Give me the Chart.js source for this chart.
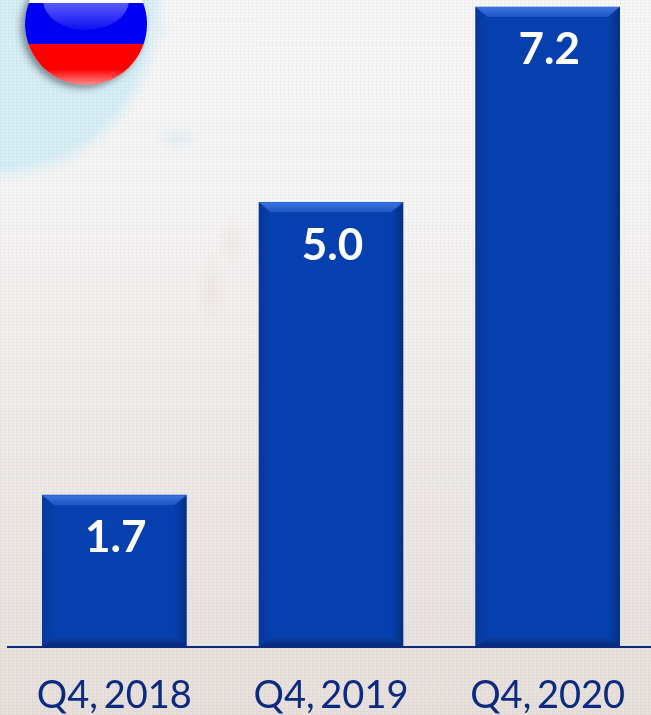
<!DOCTYPE html>
<html>
<head>
<meta charset="utf-8">
<script src="https://cdn.jsdelivr.net/npm/chart.js@4"></script>
<style>
  html, body { margin: 0; padding: 0; width: 651px; height: 715px; overflow: hidden; }
  body {
    position: relative;
    background-color: #f1eded;
    background-image:
      repeating-linear-gradient(0deg, rgba(110,95,90,.04) 0 1px, transparent 1px 3px),
      repeating-linear-gradient(90deg, rgba(110,95,90,.035) 0 1px, transparent 1px 4px),
      radial-gradient(ellipse 26px 12px at 150px 30px, rgba(226,241,247,.9), rgba(226,241,247,0)),
      radial-gradient(ellipse 168px 184px at 0 0, #d6eef6 0 90%, rgba(224,241,247,.6) 95%, rgba(224,241,247,0) 100%),
      radial-gradient(ellipse 24px 14px at 178px 138px, rgba(214,236,245,.6), rgba(214,236,245,0)),
      radial-gradient(ellipse 16px 40px at 212px 290px, rgba(225,200,195,.22), rgba(225,200,195,0)),
      radial-gradient(ellipse 16px 26px at 232px 240px, rgba(225,200,195,.2), rgba(225,200,195,0)),
      linear-gradient(180deg, #f7f7f8 0, #f6f5f5 200px, #f0ecea 400px, #e7e0dd 100%);
  }
  #flag {
    position: absolute; left: 25px; top: -37px; width: 122px; height: 122px; border-radius: 50%;
    background: linear-gradient(180deg, #fff 0 40px, #0000f2 40px 81px, #ff0000 81px 100%);
    box-shadow: -4px 3px 7px rgba(50,60,70,.55);
    overflow: hidden;
  }
  #flag::before {
    content: ""; position: absolute; left: 18px; top: 7px; width: 86px; height: 60px; border-radius: 50%;
    background: linear-gradient(180deg, rgba(100,100,255,.9) 55%, rgba(40,40,245,.35) 100%);
    clip-path: inset(33px 0 0 0);
  }
  #flag::after {
    content: ""; position: absolute; left: 0; bottom: 0; width: 122px; height: 16px;
    background: linear-gradient(180deg, rgba(255,255,255,0), rgba(255,255,255,.55));
  }
  canvas { position: absolute; left: 0; top: 0; }
</style>
</head>
<body>
<div id="flag"></div>
<canvas id="chart" width="660" height="715"></canvas>
<script>
const categories = ["Q4, 2018", "Q4, 2019", "Q4, 2020"];
const values = [1.7, 5.0, 7.2];
const valueLabels = ["1.7", "5.0", "7.2"];
const axisTop = 7.28;

const navy = "#0b2a80";
const barFill = "#0640ae";
const sideBevel = 12;
const topBevel = 10;
const bottomBevel = 8;

function facet(ctx, pts, fill) {
  ctx.beginPath();
  pts.forEach((p, i) => (i ? ctx.lineTo(p[0], p[1]) : ctx.moveTo(p[0], p[1])));
  ctx.closePath();
  ctx.fillStyle = fill;
  ctx.fill();
}

function ramp(ctx, x0, y0, x1, y1, from, to) {
  const g = ctx.createLinearGradient(x0, y0, x1, y1);
  g.addColorStop(0, from);
  g.addColorStop(1, to);
  return g;
}

// Chiselled edges on every bar, the value in white near the top, and the baseline rule.
const bevelledBars = {
  id: "bevelledBars",
  beforeDraw(chart) {
    chart.ctx.wordSpacing = "-4px";
  },
  afterDatasetsDraw(chart) {
    const ctx = chart.ctx;
    chart.getDatasetMeta(0).data.forEach((bar, i) => {
      const half = bar.width / 2;
      const l = bar.x - half, r = bar.x + half, t = bar.y, b = bar.base;
      const il = l + sideBevel, ir = r - sideBevel, it = t + topBevel, ib = b - bottomBevel;
      ctx.save();
      facet(ctx, [[l, t], [il, it], [il, ib], [l, b]], ramp(ctx, l, 0, il, 0, "#08379a", barFill));
      facet(ctx, [[r, t], [ir, it], [ir, ib], [r, b]], ramp(ctx, r, 0, ir, 0, "#062f80", barFill));
      facet(ctx, [[l, t], [r, t], [ir, it], [il, it]], ramp(ctx, 0, t, 0, it, "#3a72e0", "#1f56c4"));
      facet(ctx, [[l, b], [il, ib], [ir, ib], [r, b]], ramp(ctx, 0, b, 0, ib, "#06297a", "#0a3c9e"));
      ctx.fillStyle = "#ffffff";
      ctx.font = "bold 44px Lato";
      ctx.textAlign = "center";
      ctx.textBaseline = "middle";
      ctx.fillText(valueLabels[i], bar.x + 1.5, t + 43);
      ctx.restore();
    });
    const area = chart.chartArea;
    ctx.save();
    ctx.strokeStyle = navy;
    ctx.lineWidth = 2;
    ctx.beginPath();
    ctx.moveTo(area.left + 1, area.bottom + 1);
    ctx.lineTo(area.right, area.bottom + 1);
    ctx.stroke();
    ctx.restore();
  }
};

new Chart(document.getElementById("chart"), {
  type: "bar",
  data: {
    labels: categories,
    datasets: [{ data: values, backgroundColor: barFill, barThickness: 144, borderWidth: 0 }]
  },
  plugins: [bevelledBars],
  options: {
    responsive: false,
    animation: false,
    devicePixelRatio: 1,
    layout: { padding: { left: 6, right: 4, top: 0, bottom: 0 } },
    plugins: { legend: { display: false }, tooltip: { enabled: false } },
    scales: {
      x: {
        afterFit(scale) { scale.height = 69; },
        grid: { display: false, drawTicks: false },
        border: { display: false },
        ticks: {
          color: navy,
          font: { family: "Lato", size: 38 },
          padding: 27,
          maxRotation: 0,
          autoSkip: false
        }
      },
      y: { display: false, min: 0, max: axisTop }
    }
  }
});
</script>
</body>
</html>
